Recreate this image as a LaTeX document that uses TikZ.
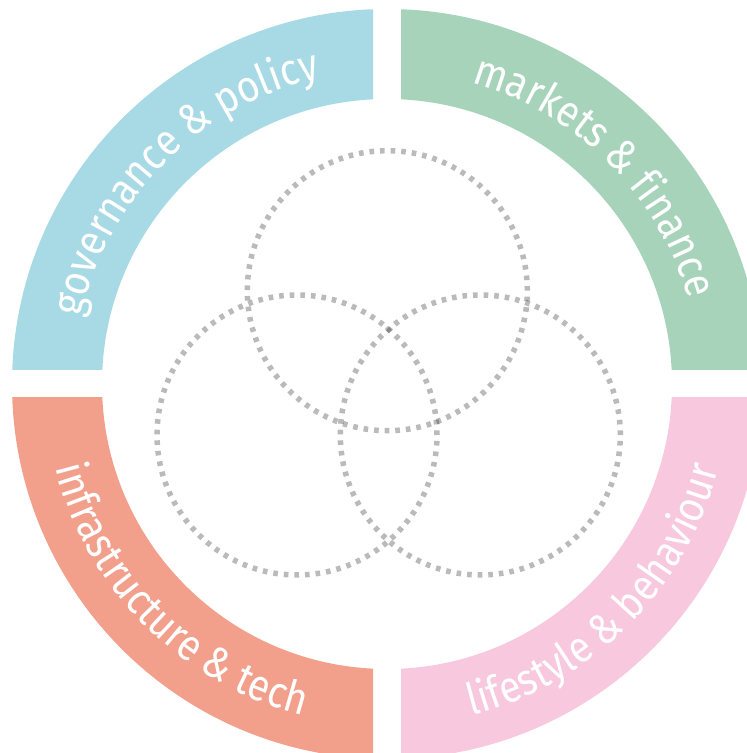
\documentclass[tikz,border=0pt]{standalone}
\usepackage{fontspec}
\setmainfont[FakeStretch=0.88]{Fira Sans}
\usetikzlibrary{decorations.text}
\definecolor{govblue}{RGB}{168,218,229}
\definecolor{mktgreen}{RGB}{166,211,186}
\definecolor{infsalmon}{RGB}{242,159,140}
\definecolor{lifepink}{RGB}{247,200,222}
\tikzset{
  dotring/.style={draw=black, draw opacity=0.27, line width=5.5pt, dash pattern=on 4.6pt off 6pt},
  bandtext/.style={decorate, decoration={text along path, text align=center, text color=white,
     text={|\fontsize{44}{50}\selectfont|#1}}}
}
\begin{document}
\begin{tikzpicture}[x=1pt,y=1pt]
\useasboundingbox (0,0) rectangle (747,753);
\clip (0,0) rectangle (747,753);
\coordinate (C) at (387,369);
\def\Ro{375}
\def\Ri{285}
% quadrants
\begin{scope}
  \clip (-10,383) rectangle (373,800);
  \fill[govblue,even odd rule] (C) circle[radius=\Ro] (C) circle[radius=\Ri];
\end{scope}
\begin{scope}
  \clip (401,383) rectangle (800,800);
  \fill[mktgreen,even odd rule] (C) circle[radius=\Ro] (C) circle[radius=\Ri];
\end{scope}
\begin{scope}
  \clip (-10,-50) rectangle (373,355);
  \fill[infsalmon,even odd rule] (C) circle[radius=\Ro] (C) circle[radius=\Ri];
\end{scope}
\begin{scope}
  \clip (401,-50) rectangle (800,355);
  \fill[lifepink,even odd rule] (C) circle[radius=\Ro] (C) circle[radius=\Ri];
\end{scope}
% labels
\path[bandtext={governance {\&} policy}] (C) ++(180:313) arc[start angle=180, end angle=90, radius=313];
\path[bandtext={markets {\&} finance}] (C) ++(90:313) arc[start angle=90, end angle=0, radius=313];
\path[bandtext={infrastructure {\&} tech}] (C) ++(180:342) arc[start angle=180, end angle=270, radius=342];
\path[bandtext={lifestyle {\&} behaviour}] (C) ++(270:342) arc[start angle=270, end angle=360, radius=342];
% dotted circles
\coordinate (T) at (387.3,462.3);
\coordinate (L) at (297,318);
\coordinate (R) at (480.3,318);
\draw[dotring] (T) circle[radius=140];
\draw[dotring] (L) circle[radius=140];
\draw[dotring] (R) circle[radius=140];
\end{tikzpicture}
\end{document}
